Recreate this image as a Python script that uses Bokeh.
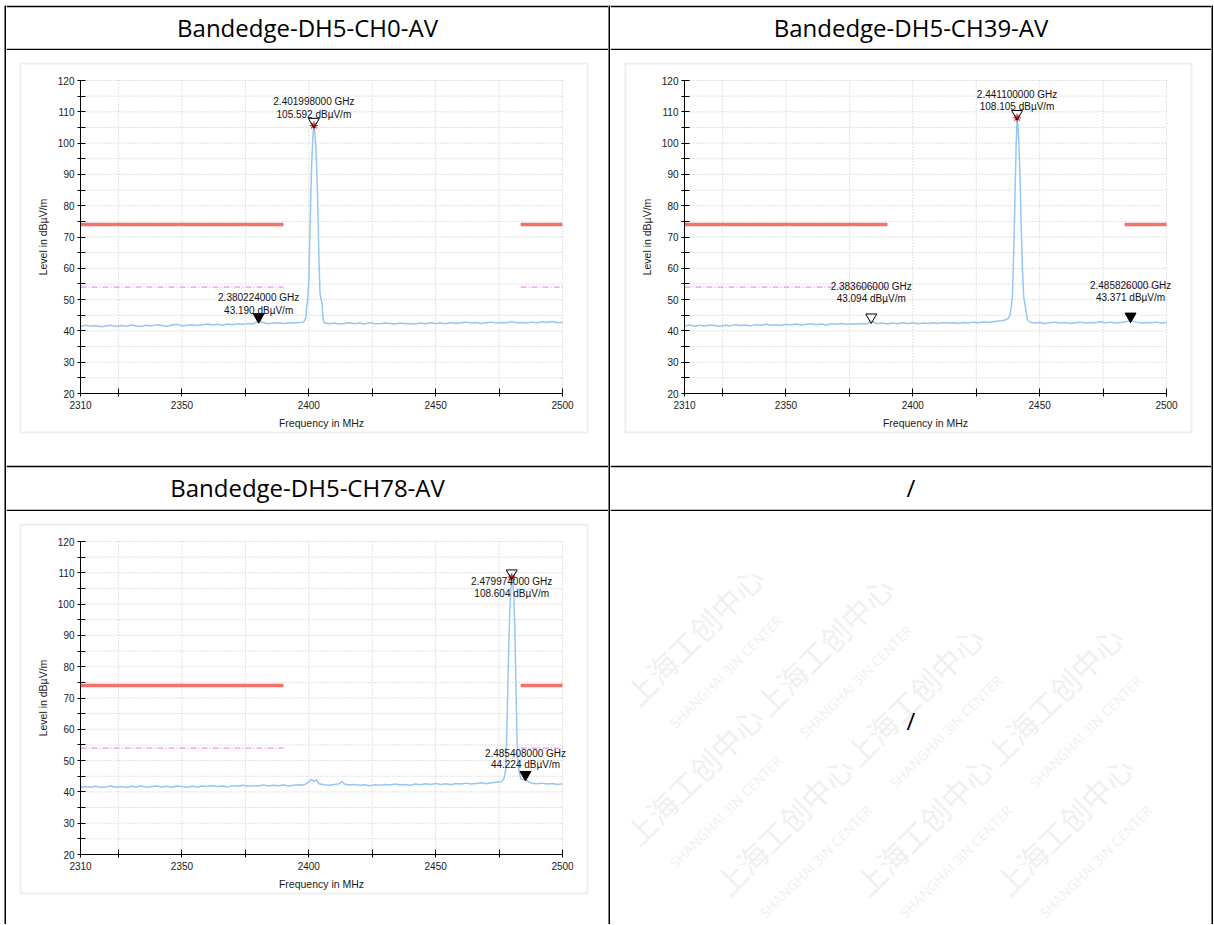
import numpy as np
from bokeh.plotting import figure
from bokeh.layouts import row, column
from bokeh.models import (FixedTicker, BoxAnnotation, LabelSet, ColumnDataSource, Range1d,
                          LinearAxis, Spacer)
from bokeh.core.properties import value
from bokeh.embed import file_html
from bokeh.resources import INLINE

# ---------------------------------------------------------------- data
titles = ["Bandedge-DH5-CH0-AV", "Bandedge-DH5-CH39-AV", "Bandedge-DH5-CH78-AV", "/"]
empty_cell_text = "/"
x_label = "Frequency in MHz"
y_label = "Level in dBµV/m"
x_major_ticks = [2310, 2350, 2400, 2450, 2500]
x_minor_ticks = [2325, 2375, 2425, 2475]
y_major_ticks = [20, 30, 40, 50, 60, 70, 80, 90, 100, 110, 120]
y_minor_ticks = [25, 35, 45, 55, 65, 75, 85, 95, 105, 115]

limit_start = [2310, 2483.5]
limit_end = [2390, 2500]
limit_red_level = 74
limit_pink_level = 54

ch0_freq = [2310, 2312, 2314, 2316, 2318, 2320, 2322, 2324, 2326, 2328,
            2330, 2332, 2334, 2336, 2338, 2340, 2342, 2344, 2346, 2348,
            2350, 2352, 2354, 2356, 2358, 2360, 2362, 2364, 2366, 2368,
            2370, 2372, 2374, 2376, 2378, 2380.224, 2382, 2384, 2386, 2388,
            2390, 2392, 2394, 2396, 2398,
            2398.8, 2399.2, 2399.6, 2400.0, 2400.4, 2400.8, 2401.2, 2401.6, 2401.998,
            2402.4, 2402.8, 2403.2, 2403.6, 2404.0, 2404.4, 2404.8, 2405.2, 2405.6,
            2406, 2408, 2410, 2412, 2414, 2416, 2418, 2420, 2422, 2424,
            2426, 2428, 2430, 2432, 2434, 2436, 2438, 2440, 2442, 2444,
            2446, 2448, 2450, 2452, 2454, 2456, 2458, 2460, 2462, 2464,
            2466, 2468, 2470, 2472, 2474, 2476, 2478, 2480, 2482, 2484,
            2486, 2488, 2490, 2492, 2494, 2496, 2498, 2500]
ch0_level = [41.4, 41.8, 41.5, 41.7, 41.3, 41.6, 41.8, 41.4, 41.7, 41.5,
             41.9, 41.6, 41.4, 41.8, 41.6, 42.0, 41.7, 41.5, 41.9, 42.1,
             41.6, 41.8, 41.9, 41.7, 42.0, 42.2, 41.9, 42.1, 41.8, 42.2,
             42.0, 42.3, 42.1, 42.4, 42.2, 43.19, 42.7, 42.3, 42.5, 42.6,
             42.4, 42.6, 42.5, 42.7, 42.8,
             44.0, 48.0, 50.2, 56.0, 70.0, 84.0, 95.0, 102.0, 105.592,
             103.5, 98.0, 90.0, 78.0, 63.0, 52.0, 50.3, 49.0, 44.0,
             42.6, 42.3, 42.5, 42.2, 42.4, 42.6, 42.3, 42.5, 42.2, 42.6,
             42.4, 42.3, 42.5, 42.4, 42.2, 42.5, 42.3, 42.4, 42.2, 42.5,
             42.3, 42.6, 42.4, 42.5, 42.3, 42.7, 42.4, 42.6, 42.8, 42.5,
             42.7, 42.4, 42.6, 42.8, 42.5, 42.7, 42.6, 42.9, 42.6, 42.7,
             42.5, 42.8, 42.6, 42.9, 42.7, 43.0, 42.6, 42.8]
ch0_marker_freq = [2401.998, 2380.224]
ch0_marker_level = [105.592, 43.190]

ch39_freq = [2310, 2312, 2314, 2316, 2318, 2320, 2322, 2324, 2326, 2328,
             2330, 2332, 2334, 2336, 2338, 2340, 2342, 2344, 2346, 2348,
             2350, 2352, 2354, 2356, 2358, 2360, 2362, 2364, 2366, 2368,
             2370, 2372, 2374, 2376, 2378, 2380, 2382, 2383.606, 2386, 2388,
             2390, 2392, 2394, 2396, 2398, 2400, 2402, 2404, 2406, 2408,
             2410, 2412, 2414, 2416, 2418, 2420, 2422, 2424, 2426, 2428,
             2430, 2432, 2434, 2436,
             2437.4, 2438.2, 2438.8, 2439.3, 2439.8, 2440.3, 2440.7, 2441.1,
             2441.5, 2441.9, 2442.3, 2442.7, 2443.2, 2443.7, 2444.2, 2444.7, 2445.2,
             2446, 2448, 2450, 2452, 2454, 2456, 2458, 2460, 2462, 2464,
             2466, 2468, 2470, 2472, 2474, 2476, 2478, 2480, 2482, 2484,
             2485.826, 2488, 2490, 2492, 2494, 2496, 2498, 2500]
ch39_level = [41.6, 41.9, 41.5, 41.8, 41.6, 41.9, 41.7, 41.5, 41.8, 41.6,
              42.0, 41.7, 41.9, 41.6, 42.0, 41.8, 42.1, 41.8, 42.0, 41.7,
              42.1, 41.9, 42.2, 41.9, 42.1, 42.3, 42.0, 42.2, 41.9, 42.3,
              42.1, 42.4, 42.1, 42.3, 42.2, 42.4, 42.2, 43.094, 42.3, 42.5,
              42.2, 42.5, 42.3, 42.6, 42.4, 42.6, 42.3, 42.5, 42.4, 42.6,
              42.4, 42.7, 42.5, 42.6, 42.4, 42.7, 42.5, 42.8, 42.6, 42.9,
              42.7, 43.0, 43.2, 43.4,
              43.8, 44.8, 47.5, 52.0, 66.0, 84.0, 98.0, 108.105,
              105.0, 98.0, 88.0, 74.0, 60.0, 51.0, 48.5, 46.0, 43.6,
              42.8, 42.5, 42.7, 42.4, 42.6, 42.8, 42.5, 42.7, 42.4, 42.6,
              42.8, 42.5, 42.7, 42.6, 42.9, 42.6, 42.8, 42.5, 42.7, 42.9,
              43.371, 42.8, 42.5, 42.7, 42.6, 42.8, 42.5, 42.7]
ch39_marker_freq = [2441.100, 2383.606, 2485.826]
ch39_marker_level = [108.105, 43.094, 43.371]

ch78_freq = [2310, 2312, 2314, 2316, 2318, 2320, 2322, 2324, 2326, 2328,
             2330, 2332, 2334, 2336, 2338, 2340, 2342, 2344, 2346, 2348,
             2350, 2352, 2354, 2356, 2358, 2360, 2362, 2364, 2366, 2368,
             2370, 2372, 2374, 2376, 2378, 2380, 2382, 2384, 2386, 2388,
             2390, 2392, 2394, 2396, 2398, 2400, 2401, 2402, 2403, 2404,
             2406, 2408, 2410, 2412, 2413, 2414, 2416, 2418, 2420, 2422,
             2424, 2426, 2428, 2430, 2432, 2434, 2436, 2438, 2440, 2442,
             2444, 2446, 2448, 2450, 2452, 2454, 2456, 2458, 2460, 2462,
             2464, 2466, 2468, 2470, 2472, 2474,
             2476, 2477, 2477.6, 2478.0, 2478.4, 2478.8, 2479.2, 2479.6, 2479.974,
             2480.4, 2480.8, 2481.2, 2481.6, 2482.0, 2482.4, 2482.8, 2483.2, 2483.6,
             2484.2, 2484.8, 2485.408, 2486.0, 2486.8, 2488,
             2490, 2492, 2494, 2496, 2498, 2500]
ch78_level = [41.4, 41.7, 41.5, 41.8, 41.4, 41.6, 41.9, 41.5, 41.7, 41.4,
              41.8, 41.6, 41.9, 41.5, 41.7, 41.9, 41.6, 41.8, 41.5, 41.9,
              41.7, 41.5, 41.8, 41.6, 41.9, 41.7, 42.0, 41.7, 41.9, 41.6,
              42.0, 41.8, 42.1, 41.8, 42.0, 41.9, 42.2, 41.9, 42.1, 42.0,
              42.2, 41.9, 42.1, 42.3, 42.2, 43.2, 44.0, 43.4, 43.8, 42.6,
              42.3, 42.1, 42.4, 42.6, 43.3, 42.5, 42.2, 42.4, 42.1, 42.3,
              42.0, 42.3, 42.1, 42.4, 42.2, 42.5, 42.2, 42.4, 42.1, 42.5,
              42.3, 42.6, 42.4, 42.7, 42.4, 42.6, 42.3, 42.7, 42.5, 42.8,
              42.5, 42.7, 42.9, 42.6, 42.9, 43.1,
              43.3, 44.5, 47.0, 58.0, 72.0, 86.0, 97.0, 104.0, 108.604,
              107.0, 103.0, 92.0, 76.0, 60.0, 50.0, 47.0, 45.5, 44.1,
              44.0, 43.9, 44.224, 43.6, 43.1, 42.8,
              42.6, 42.8, 42.5, 42.7, 42.4, 42.6]
ch78_marker_freq = [2479.974, 2485.408]
ch78_marker_level = [108.604, 44.224]

# ---------------------------------------------------------------- styles / layout
FONT = "Liberation Sans"
TRACE_COLOR = "#97c6f3"
RED = "#f2716b"
PINK = "#f070f0"
GRID = "#c4c4c4"
WATERMARK = "#f0f0f0"

# plot area inside each chart cell (canvas px)
PL, PR, PT, PB = 74, 556, 30, 343

# per-marker presentation: (kind, label line-1 offset px, line-2 offset px) ; +up
ch0_marker_style = [("peak", 24, 11), ("filled", 23.5, 10.5)]
ch39_marker_style = [("peak", 23, 11), ("open", 35, 22.5), ("filled", 35, 22.5)]
ch78_marker_style = [("peak", -4.5, -16.5), ("filled", 25.5, 14)]
TRI_LIFT_DB = 1.3


def style_axis(ax):
    ax.axis_line_color = "black"
    ax.major_tick_line_color = "black"
    ax.minor_tick_line_color = "black"
    ax.major_tick_in = 5
    ax.major_tick_out = 3
    ax.minor_tick_in = 5
    ax.minor_tick_out = 3
    ax.major_label_text_font = FONT
    ax.major_label_text_font_size = "10px"
    ax.major_label_text_color = "#1a1a1a"
    ax.axis_label_text_font = FONT
    ax.axis_label_text_font_size = "10.5px"
    ax.axis_label_text_font_style = "normal"
    ax.axis_label_text_color = "#1a1a1a"


def chart(width, height, box, freq, level, mfreq, mlevel, mstyle):
    x0, x1 = x_major_ticks[0], x_major_ticks[-1]
    y0, y1 = y_major_ticks[0], y_major_ticks[-1]
    kx = (PR - PL) / (x1 - x0)
    ky = (PB - PT) / (y1 - y0)
    p = figure(width=width, height=height,
               x_range=Range1d(x0 - PL / kx, x1 + (width - PR) / kx),
               y_range=Range1d(y0 - (height - PB) / ky, y1 + PT / ky),
               min_border=0, toolbar_location=None, output_backend="svg",
               x_axis_type=None, y_axis_type=None,
               outline_line_color=None, background_fill_color="white", border_fill_color="white")
    # frame of the pasted chart picture
    p.add_layout(BoxAnnotation(left=box[0], right=box[1], top=box[2], bottom=box[3],
                               left_units="canvas", right_units="canvas",
                               top_units="canvas", bottom_units="canvas",
                               fill_color=None, line_color="#c6c6c6", line_width=2,
                               level="underlay"))
    # dotted grid at every tick
    gx = x_major_ticks + x_minor_ticks
    gy = y_major_ticks + y_minor_ticks
    p.segment(x0=gx, x1=gx, y0=[y0] * len(gx), y1=[y1] * len(gx),
              line_color=GRID, line_dash="1 2", line_width=1)
    p.segment(x0=[x0] * len(gy), x1=[x1] * len(gy), y0=gy, y1=gy,
              line_color=GRID, line_dash="1 2", line_width=1)

    xa = LinearAxis(fixed_location=y0, bounds=(x0, x1), axis_label=x_label,
                    ticker=FixedTicker(ticks=x_major_ticks, minor_ticks=x_minor_ticks))
    ya = LinearAxis(fixed_location=x0, bounds=(y0, y1), axis_label=y_label,
                    ticker=FixedTicker(ticks=y_major_ticks, minor_ticks=y_minor_ticks))
    style_axis(xa)
    style_axis(ya)
    xa.major_label_standoff = 4
    ya.major_label_standoff = 3
    xa.axis_label_standoff = 5
    ya.axis_label_standoff = 6
    p.add_layout(xa, "below")
    p.add_layout(ya, "left")

    # limit lines
    p.segment(x0=limit_start, x1=limit_end, y0=[limit_red_level] * 2, y1=[limit_red_level] * 2,
              line_color=RED, line_width=3.5)
    p.segment(x0=limit_start, x1=limit_end, y0=[limit_pink_level] * 2, y1=[limit_pink_level] * 2,
              line_color=PINK, line_width=1, line_dash="6 2 1 2")
    # trace
    p.line(freq, level, line_color=TRACE_COLOR, line_width=1.5)

    # markers
    kinds = [s[0] for s in mstyle]
    tri_y = [lv + TRI_LIFT_DB for lv in mlevel]
    open_x = [f for f, k in zip(mfreq, kinds) if k in ("peak", "open")]
    open_y = [y for y, k in zip(tri_y, kinds) if k in ("peak", "open")]
    fill_x = [f for f, k in zip(mfreq, kinds) if k == "filled"]
    fill_y = [y for y, k in zip(tri_y, kinds) if k == "filled"]
    peak_x = [f for f, k in zip(mfreq, kinds) if k == "peak"]
    peak_y = [lv for lv, k in zip(mlevel, kinds) if k == "peak"]
    p.scatter(peak_x, peak_y, marker="asterisk", size=8, line_color="#e02020", line_width=1.2)
    p.scatter(open_x, open_y, marker="inverted_triangle", size=11, fill_color=None,
              line_color="black", line_width=1)
    p.scatter(fill_x, fill_y, marker="inverted_triangle", size=11, fill_color="black",
              line_color="black", line_width=1)

    line1 = ["%.9f GHz" % (f / 1000.0) for f in mfreq]
    line2 = ["%.3f dBµV/m" % lv for lv in mlevel]
    src = ColumnDataSource(dict(x=list(mfreq) * 2, y=list(mlevel) * 2, text=line1 + line2,
                                off=[s[1] for s in mstyle] + [s[2] for s in mstyle]))
    p.add_layout(LabelSet(x="x", y="y", text="text", y_offset="off", source=src,
                          text_align="center", text_baseline="middle",
                          text_font=value(FONT), text_font_size="10px",
                          text_color="#111111"))
    return p


def header(width, height, text):
    # black 2px rules above and below the header cell come from the border area
    p = figure(width=width, height=height, x_range=Range1d(0, 1), y_range=Range1d(0, 1),
               min_border_left=0, min_border_right=0, min_border_top=2, min_border_bottom=2,
               border_fill_color="black", background_fill_color="white",
               outline_line_color=None, toolbar_location=None, output_backend="svg",
               x_axis_type=None, y_axis_type=None)
    p.text(x=[0.5], y=[0.52], text=[text], text_align="center", text_baseline="middle",
           text_font=value("Open Sans"), text_font_size="24px", text_color="black")
    return p


def bar(width, height):
    return figure(width=width, height=height, min_border=0, border_fill_color="black",
                  background_fill_color="black", outline_line_color=None,
                  toolbar_location=None, output_backend="svg", x_axis_type=None, y_axis_type=None)


def empty_cell(width, height):
    p = figure(width=width, height=height, x_range=Range1d(0, width), y_range=Range1d(0, height),
               min_border=0, border_fill_color="white", background_fill_color="white",
               outline_line_color=None, toolbar_location=None, output_backend="svg",
               x_axis_type=None, y_axis_type=None)
    # faint watermark pattern, units chained along 45-degree bands, all inside the cell
    wx = [35, 35, 165, 125, 255, 265, 395, 405]
    wy = [210, 70, 200, 20, 150, 20, 150, 20]
    p.text(x=wx, y=wy, text=["上海工创中心"] * len(wx), angle=np.pi / 4,
           text_font=value("Noto Sans CJK SC"), text_font_size="30px", text_color=WATERMARK,
           text_baseline="bottom")
    p.text(x=wx, y=wy, text=["SHANGHAI 3IN CENTER"] * len(wx), angle=np.pi / 4,
           x_offset=20, y_offset=4, text_font=value("Open Sans"), text_font_size="14px",
           text_color=WATERMARK, text_baseline="top")
    p.text(x=[width / 2], y=[height / 2 - 2], text=[empty_cell_text], text_align="center",
           text_baseline="middle", text_font=value("Open Sans"), text_font_size="24px",
           text_color="black")
    return p


W1, W2 = 602, 601
c1 = chart(W1, 415, (14, 581, 13, 382),
           ch0_freq, ch0_level, ch0_marker_freq, ch0_marker_level, ch0_marker_style)
c2 = chart(W2, 415, (15, 581, 13, 382),
           ch39_freq, ch39_level, ch39_marker_freq, ch39_marker_level, ch39_marker_style)
c3 = chart(W1, 413, (14, 581, 13, 382),
           ch78_freq, ch78_level, ch78_marker_freq, ch78_marker_level, ch78_marker_style)
c4 = empty_cell(W2, 413)

col1 = column(Spacer(width=W1, height=5), header(W1, 45, titles[0]), c1,
              header(W1, 46, titles[2]), c3)
col2 = column(Spacer(width=W2, height=5), header(W2, 45, titles[1]), c2,
              header(W2, 46, titles[3]), c4)


def vcol():
    return column(Spacer(width=2, height=5), bar(2, 919))


root = row(Spacer(width=4, height=924), vcol(), col1, vcol(), col2, vcol())

open("out.html", "w").write(file_html(root, INLINE))
